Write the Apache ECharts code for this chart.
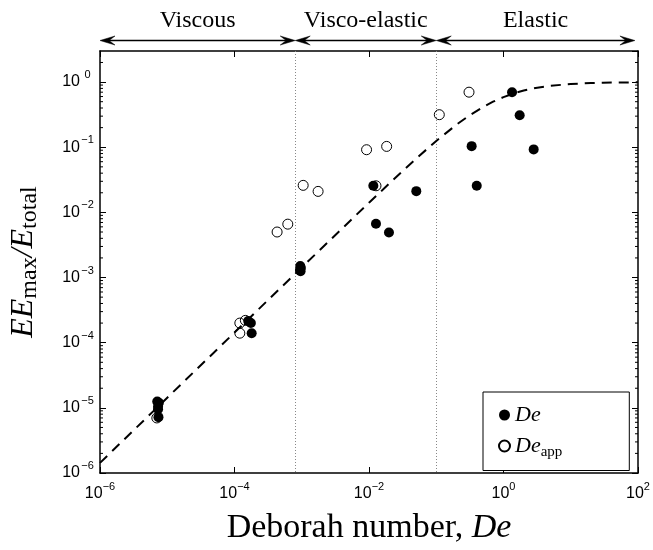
<!DOCTYPE html>
<html><head><meta charset="utf-8">
<script src="https://cdn.jsdelivr.net/npm/echarts@6/dist/echarts.min.js"></script>
<style>html,body{margin:0;padding:0;background:#fff}#c{width:653px;height:550px}</style>
</head><body><div id="c"></div>
<script>
// Filled circles: De
const deX = [7.1e-6, 7.5e-6, 7.3e-6, 7.3e-6, 7.4e-6,
             1.6e-4, 1.75e-4, 1.8e-4,
             9.5e-4, 9.7e-4, 9.4e-4, 9.6e-4,
             0.0116, 0.0127, 0.0198, 0.0505,
             0.336, 0.40, 1.34, 1.74, 2.81];
const deY = [1.25e-5, 1.2e-5, 1.05e-5, 9.5e-6, 7.2e-6,
             2.15e-4, 2.0e-4, 1.4e-4,
             1.5e-3, 1.4e-3, 1.3e-3, 1.25e-3,
             0.0256, 6.7e-3, 4.9e-3, 0.0212,
             0.104, 0.0257, 0.70, 0.31, 0.0927];
// Open circles: De_app
const appX = [7.0e-6, 1.2e-4, 1.2e-4, 1.45e-4,
              4.3e-4, 6.2e-4, 1.05e-3, 1.75e-3,
              9.2e-3, 0.0183, 0.0127, 0.111, 0.307];
const appY = [7.0e-6, 2.0e-4, 1.4e-4, 2.2e-4,
              5.0e-3, 6.6e-3, 0.026, 0.021,
              0.0916, 0.103, 0.0256, 0.316, 0.70];
// Dashed model curve
const fitX = [1e-6, 1e-5, 1e-4, 1e-3, 1e-2, 0.03, 0.05, 0.1, 0.2, 0.3, 0.5, 0.7, 1, 1.5, 2, 3, 5, 10, 20, 30, 50, 100];
const fitY = [1.43e-6, 1.43e-5, 1.43e-4, 1.43e-3, 0.0141, 0.0411, 0.0667, 0.125, 0.222, 0.30, 0.417, 0.50, 0.588, 0.682, 0.741, 0.811, 0.877, 0.935, 0.966, 0.977, 0.986, 0.993];
// Regime annotations
const regionBounds = [1e-6, 8e-4, 0.1, 90];
const regionNames = ['Viscous', 'Visco-elastic', 'Elastic'];
const boundaryLines = [8e-4, 0.1];
// Axis setup
const xMin = 1e-6, xMax = 1e2, yMin = 1e-6, yMax = 3;
const minorMultipliers = [2, 3, 4, 5, 6, 7, 8, 9];
const minorDecades = [1e-6, 1e-5, 1e-4, 1e-3, 1e-2, 1e-1, 1];

const yMinor = [];
minorDecades.forEach(d => minorMultipliers.forEach(m => { const v = d * m; if (v < yMax) yMinor.push(v); }));

const SANS = '"Liberation Sans", Arial, sans-serif';
const SERIF = '"Liberation Serif", "Times New Roman", serif';

function expLabel(v) {
  const l = Math.log10(v);
  const e = Math.round(l);
  if (Math.abs(l - e) > 1e-6) return '';
  return '{b|10}{s|' + (e < 0 ? '\u2212' + (-e) : e) + '}';
}
const tickRich = {
  b: { fontFamily: SANS, fontSize: 16, color: '#000' },
  s: { fontFamily: SANS, fontSize: 11, color: '#000', padding: [0, 0, 14, 0] }
};
const yTickRich = {
  b: { fontFamily: SANS, fontSize: 16, color: '#000' },
  s: { fontFamily: SANS, fontSize: 11, color: '#000', padding: [0, 0, 14, 0], width: 15, align: 'left' }
};

const chart = echarts.init(document.getElementById('c'), null, { renderer: 'canvas' });

const axisLineStyle = { color: '#000', width: 1.5 };

chart.setOption({
  animation: false,
  backgroundColor: '#fff',
  grid: { left: 100, right: 15, top: 51, bottom: 73, containLabel: false },
  xAxis: [{
    type: 'log', min: xMin, max: xMax, interval: 2, position: 'bottom',
    axisLine: { show: true, onZero: false, lineStyle: axisLineStyle },
    axisTick: { show: true, inside: true, length: 6, lineStyle: { color: '#000', width: 1 } },
    axisLabel: { formatter: expLabel, margin: 8, rich: tickRich },
    splitLine: { show: false },
    name: '{r|Deborah number, }{i|De}', nameLocation: 'middle', nameGap: 38,
    nameTextStyle: { rich: {
      r: { fontFamily: SERIF, fontSize: 34, color: '#000' },
      i: { fontFamily: SERIF, fontSize: 34, fontStyle: 'italic', color: '#000' } } }
  }, {
    type: 'log', min: xMin, max: xMax, interval: 2, position: 'top',
    axisLine: { show: true, onZero: false, lineStyle: axisLineStyle },
    axisTick: { show: true, inside: true, length: 6, lineStyle: { color: '#000', width: 1 } },
    axisLabel: { show: false }, splitLine: { show: false }
  }],
  yAxis: [{
    type: 'log', min: yMin, max: yMax, interval: 1, position: 'left',
    axisLine: { show: true, onZero: false, lineStyle: axisLineStyle },
    axisTick: { show: true, inside: true, length: 6, lineStyle: { color: '#000', width: 1 } },
    axisLabel: { formatter: expLabel, margin: 5, rich: yTickRich, showMaxLabel: false },
    splitLine: { show: false },
    name: '{i|EE}{s|max}{i|/E}{s|total}', nameLocation: 'middle', nameGap: 58, nameRotate: 90,
    nameTextStyle: { rich: {
      i: { fontFamily: SERIF, fontSize: 32, fontStyle: 'italic', color: '#000' },
      s: { fontFamily: SERIF, fontSize: 24, color: '#000', padding: [12, 0, 0, 0] } } }
  }, {
    type: 'log', min: yMin, max: yMax, interval: 1, position: 'right',
    axisLine: { show: true, onZero: false, lineStyle: axisLineStyle },
    axisTick: { show: true, inside: true, length: 6, lineStyle: { color: '#000', width: 1 } },
    axisLabel: { show: false }, splitLine: { show: false }
  }],
  legend: {
    data: ['De', 'Deapp'], orient: 'vertical', left: 483, top: 392,
    itemWidth: 11, itemHeight: 11, itemGap: 9,
    padding: [12, 67, 11, 15],
    borderColor: '#000', borderWidth: 1, backgroundColor: '#fff',
    formatter: n => n === 'De' ? '{i|De}' : '{i|De}{s|app}',
    textStyle: { rich: {
      i: { fontFamily: SERIF, fontSize: 22, fontStyle: 'italic', color: '#000' },
      s: { fontFamily: SERIF, fontSize: 15, color: '#000', padding: [12, 0, 0, 0] } } }
  },
  series: [{
    type: 'custom', name: 'bounds', silent: true, clip: false, z: 1,
    data: boundaryLines.map(v => [v, 1]),
    renderItem: function (params, api) {
      const x = Math.round(api.coord([api.value(0), 1])[0]) + 0.5;
      const cs = params.coordSys;
      return { type: 'line', shape: { x1: x, y1: cs.y, x2: x, y2: cs.y + cs.height },
        style: { stroke: '#888', lineWidth: 1, lineDash: [1, 2] } };
    }
  }, {
    type: 'line', name: 'fit', data: fitX.map((x, i) => [x, fitY[i]]),
    showSymbol: false, symbol: 'none', silent: true, z: 2,
    lineStyle: { color: '#000', width: 2, type: [10, 7] }
  }, {
    type: 'scatter', name: 'De', data: deX.map((x, i) => [x, deY[i]]),
    symbol: 'circle', symbolSize: 10, z: 3,
    itemStyle: { color: '#000', borderColor: '#000', borderWidth: 0, opacity: 1 }
  }, {
    type: 'scatter', name: 'Deapp', data: appX.map((x, i) => [x, appY[i]]),
    symbol: 'circle', symbolSize: 10, z: 4,
    itemStyle: { color: 'rgba(0,0,0,0)', borderColor: '#000', borderWidth: 1, opacity: 1 }
  }, {
    type: 'custom', name: 'minor', silent: true, clip: false, z: 5,
    data: yMinor.map(v => [1, v]),
    renderItem: function (params, api) {
      const y = api.coord([1, api.value(1)])[1];
      const cs = params.coordSys;
      return { type: 'group', children: [
        { type: 'line', shape: { x1: cs.x, y1: y, x2: cs.x + 3, y2: y }, style: { stroke: '#000', lineWidth: 1 } },
        { type: 'line', shape: { x1: cs.x + cs.width, y1: y, x2: cs.x + cs.width - 3, y2: y }, style: { stroke: '#000', lineWidth: 1 } }
      ] };
    }
  }, {
    type: 'custom', name: 'regions', silent: true, clip: false, z: 6,
    data: regionNames.map((n, i) => [regionBounds[i], 1]),
    renderItem: function (params, api) {
      const i = params.dataIndex;
      const cs = params.coordSys;
      const x0 = api.coord([regionBounds[i], 1])[0];
      const x1 = api.coord([regionBounds[i + 1], 1])[0];
      const ya = cs.y - 10.5;
      const L = 15, hw = 4.5, notch = 0.6 * L;
      const st = { fill: '#000', stroke: '#000', lineWidth: 0.5 };
      return { type: 'group', children: [
        { type: 'line', shape: { x1: x0 + 4, y1: ya, x2: x1 - 4, y2: ya }, style: { stroke: '#000', lineWidth: 1.5 } },
        { type: 'polygon', shape: { points: [[x0, ya], [x0 + L, ya - hw], [x0 + notch, ya], [x0 + L, ya + hw]] }, style: st },
        { type: 'polygon', shape: { points: [[x1, ya], [x1 - L, ya - hw], [x1 - notch, ya], [x1 - L, ya + hw]] }, style: st },
        { type: 'text', x: (x0 + x1) / 2, y: cs.y - 30, style: {
          text: regionNames[i], fontFamily: SERIF, fontSize: 24, fill: '#000', align: 'center', verticalAlign: 'middle' } }
      ] };
    }
  }]
});
</script></body></html>
